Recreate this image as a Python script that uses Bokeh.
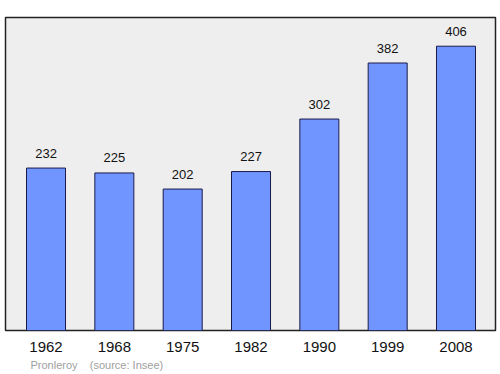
from bokeh.plotting import figure
from bokeh.models import ColumnDataSource, Title, FixedTicker, Range1d
from bokeh.core.properties import value
from bokeh.embed import file_html
from bokeh.resources import INLINE

years = ["1962", "1968", "1975", "1982", "1990", "1999", "2008"]
population = [232, 225, 202, 227, 302, 382, 406]

xs = list(range(len(years)))
src = ColumnDataSource(dict(x=xs, top=population, lab=[str(v) for v in population]))

p = figure(width=500, height=374, output_backend="svg", toolbar_location=None,
           x_range=Range1d(-0.593, 6.578), y_range=Range1d(0, 447),
           min_border_left=5, min_border_right=5, min_border_top=17, min_border_bottom=44)
p.background_fill_color = "#eeeeee"
p.border_fill_color = "white"
p.outline_line_color = "#222222"
p.outline_line_width = 1.5
p.grid.visible = False
p.yaxis.visible = False

p.vbar(x="x", top="top", bottom=0, width=0.571, source=src,
       fill_color="#7095ff", line_color="#1a1a4a", line_width=1)
p.text(x="x", y="top", text="lab", source=src, text_align="center",
       text_baseline="alphabetic", y_offset=-15,
       text_font=value("Liberation Sans"), text_font_size="13px", text_color="#111111")

ax = p.xaxis[0]
ax.ticker = FixedTicker(ticks=xs)
ax.major_label_overrides = {i: y for i, y in zip(xs, years)}
ax.axis_line_color = None
ax.major_tick_line_color = None
ax.minor_tick_line_color = None
ax.major_tick_out = 0
ax.major_label_standoff = 11
ax.major_label_text_font = "Liberation Sans"
ax.major_label_text_font_size = "15px"
ax.major_label_text_color = "#111111"

foot = Title(text="Pronleroy\u00a0\u00a0\u00a0\u00a0(source: Insee)", align="left", offset=25,
             text_font="Liberation Sans", text_font_size="11px",
             text_font_style="normal", text_color="#a0a0a0", standoff=4)
p.add_layout(foot, "below")

open("out.html", "w").write(file_html(p, INLINE))
